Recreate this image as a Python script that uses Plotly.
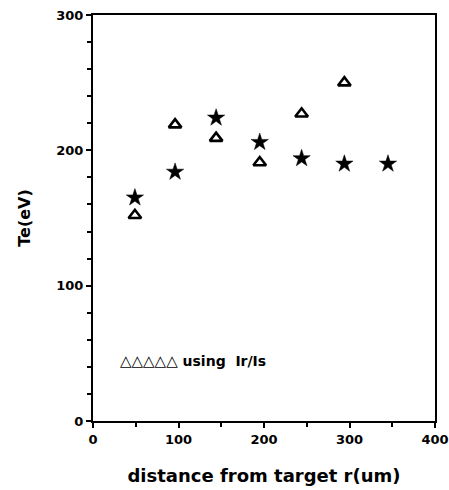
import plotly.graph_objects as go

r_um = [49, 96, 144, 195, 244, 294, 345]
te_star = [165, 184, 224, 206, 194, 190, 190]
r_tri = [49, 96, 144, 195, 244, 294]
te_tri = [152, 219, 209, 191, 227, 250]

x_ticks = [0, 100, 200, 300, 400]
y_ticks = [0, 100, 200, 300]

FONT = "DejaVu Sans"

fig = go.Figure()
fig.add_trace(go.Scatter(
    x=r_um, y=te_star, mode="markers",
    marker=dict(symbol="star", size=13, color="black", line=dict(width=0.5, color="black")),
    showlegend=False))
fig.add_trace(go.Scatter(
    x=r_tri, y=te_tri, mode="markers",
    marker=dict(symbol="triangle-up-open", size=11, color="black",
                line=dict(width=2.6, color="black")),
    showlegend=False))

fig.add_annotation(x=29, y=44, xref="x", yref="y", xanchor="left", yanchor="middle",
                   text="<span style='font-size:15px'>△△△△△</span> using  Ir/Is", showarrow=False,
                   font=dict(family=FONT, size=14, color="black", weight="bold"))

axis_common = dict(showgrid=False, zeroline=False, showline=True, linecolor="black",
                   linewidth=2, mirror=True, ticks="outside", ticklen=5, tickwidth=1.5,
                   tickcolor="black", automargin=False, ticklabeloverflow="allow",
                   tickfont=dict(family=FONT, size=13, color="black", weight="bold"))

fig.update_xaxes(range=[0, 400], tickvals=x_ticks, ticktext=[str(v) for v in x_ticks],
                 minor=dict(dtick=50, ticks="outside", ticklen=4, tickcolor="black", tickwidth=1.5),
                 title=dict(text="distance from target r(um)", standoff=24,
                            font=dict(family=FONT, size=18, color="black", weight="bold")),
                 **axis_common)
fig.update_yaxes(range=[0, 300], tickvals=y_ticks, ticktext=[str(v) for v in y_ticks],
                 minor=dict(dtick=20, ticks="outside", ticklen=4, tickcolor="black", tickwidth=1.5),
                 title=dict(text="Te(eV)", standoff=22,
                            font=dict(family=FONT, size=16, color="black", weight="bold")),
                 **axis_common)

fig.update_layout(width=449, height=490,
                  margin=dict(l=93, r=14, t=15, b=69, autoexpand=False),
                  plot_bgcolor="white", paper_bgcolor="white")

fig.write_html("out.html", config={"displayModeBar": False},
               post_script="document.body.style.margin='0px';document.body.style.padding='0px';")
